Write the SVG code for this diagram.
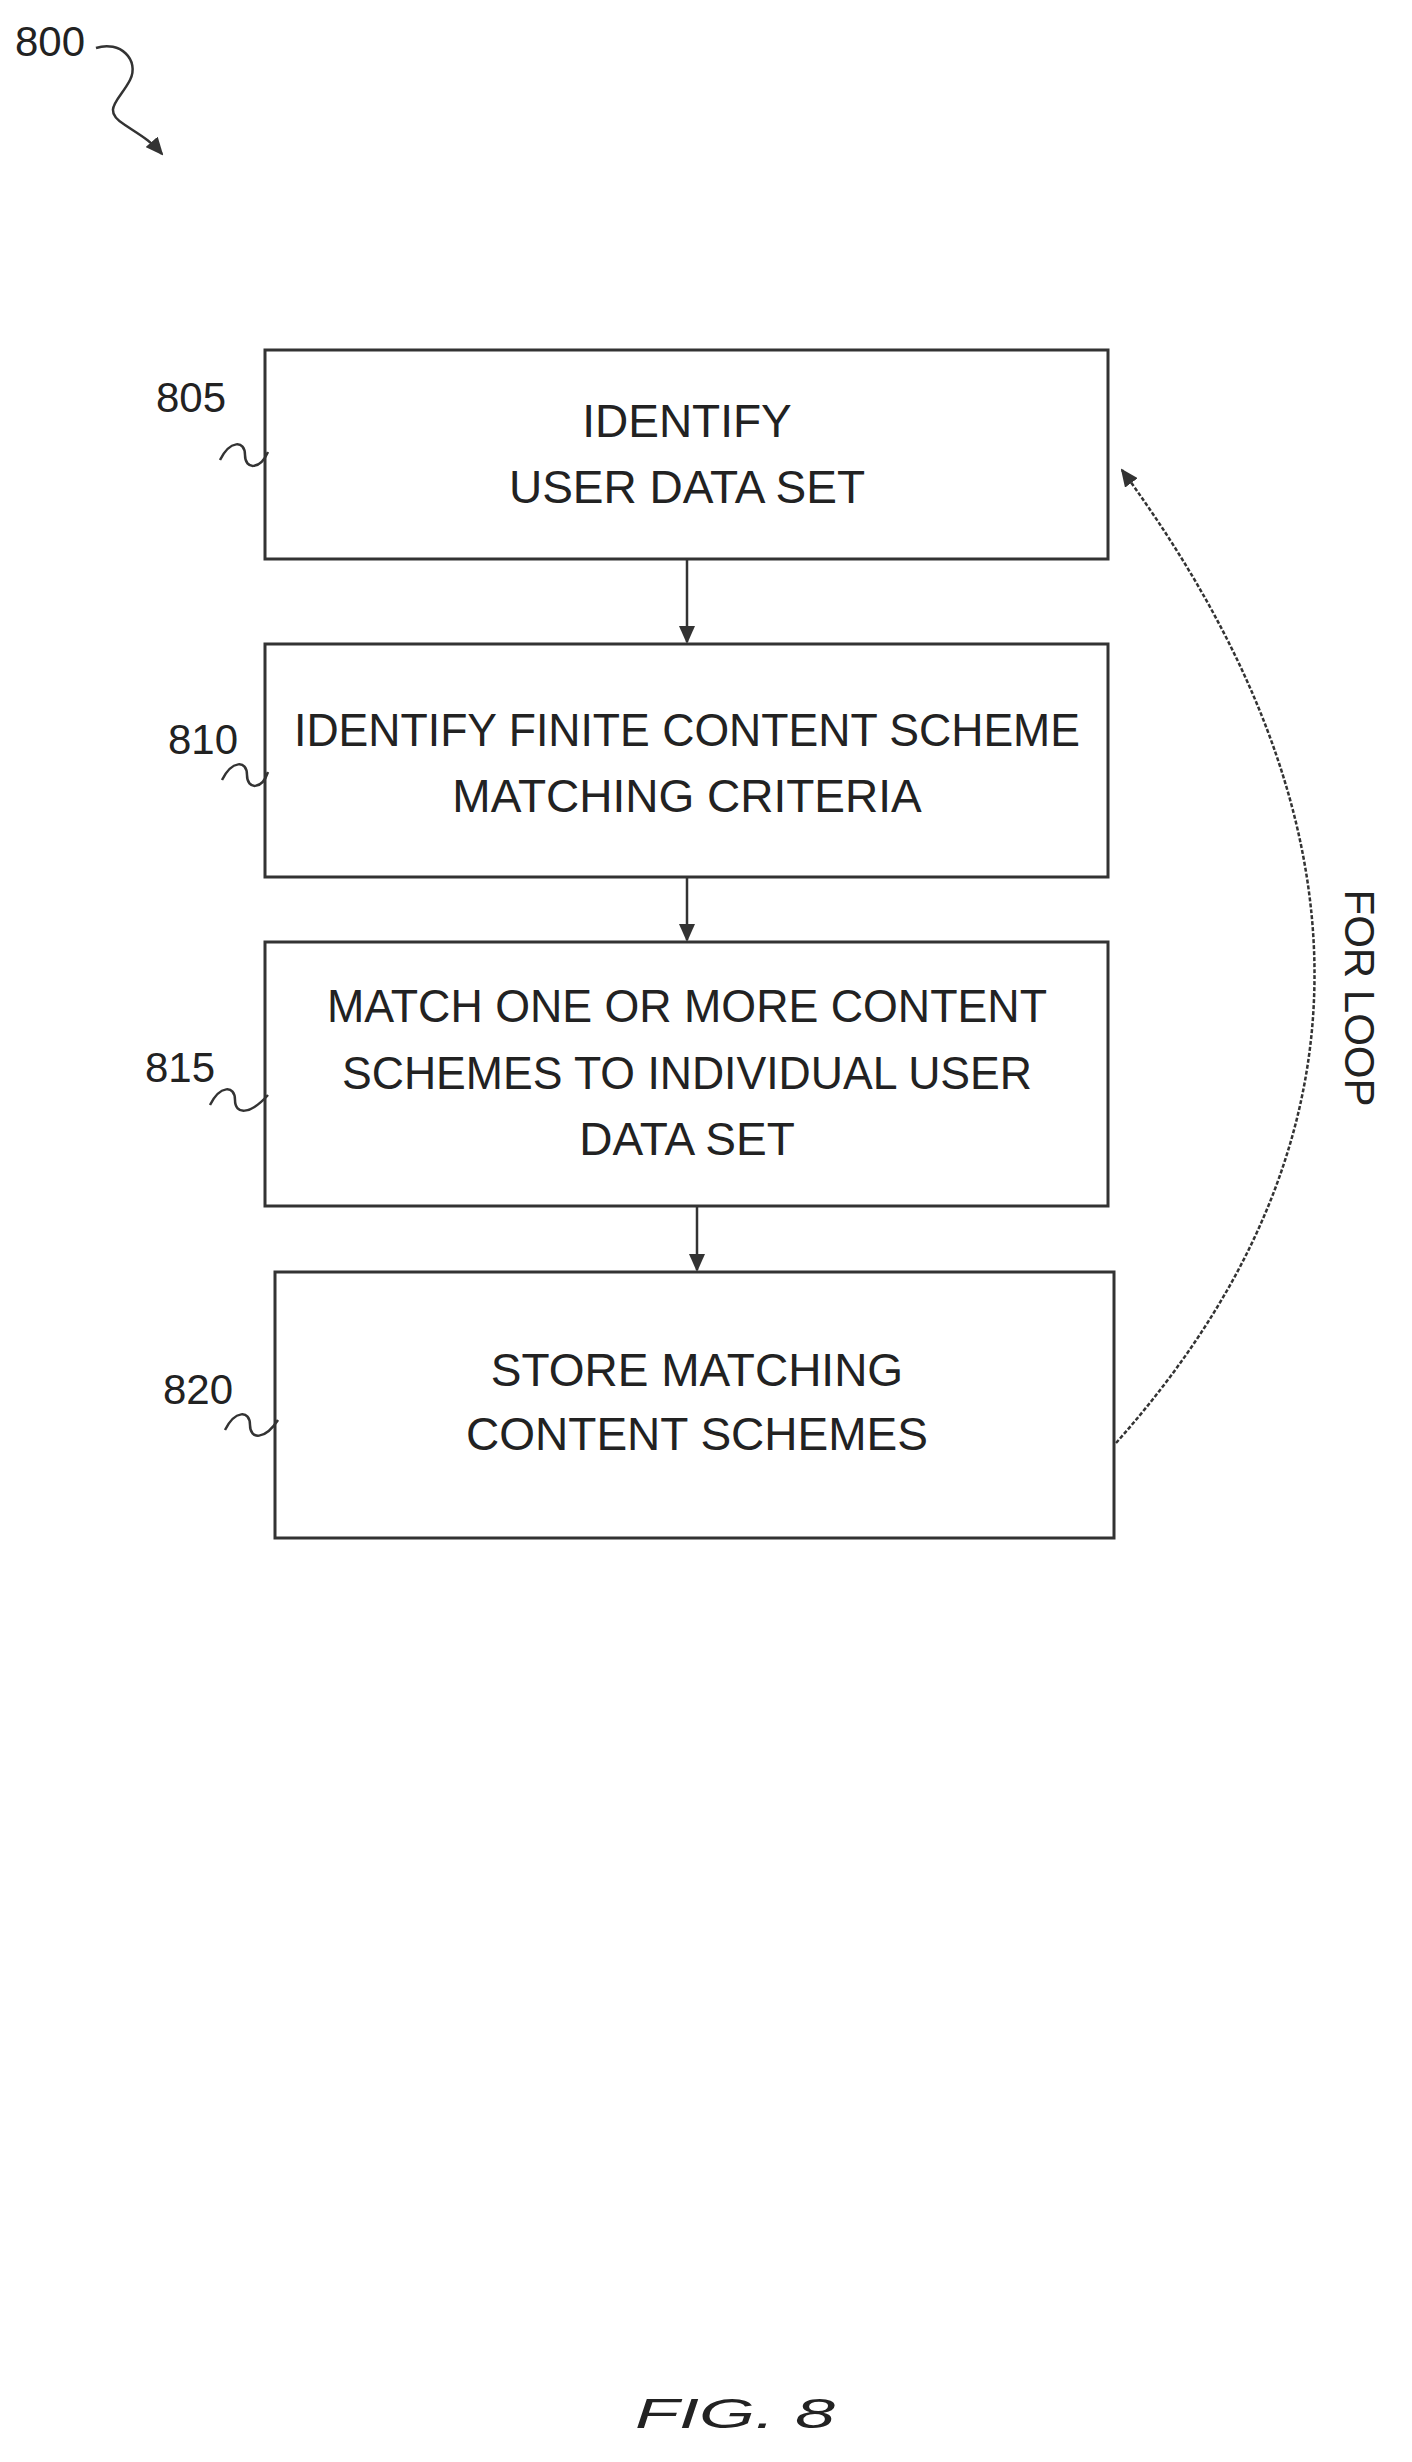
<svg xmlns="http://www.w3.org/2000/svg" width="1412" height="2462" viewBox="0 0 1412 2462">
<style>
.b{fill:none;stroke:#333;stroke-width:3}
.t{font-family:"Liberation Sans",Arial,sans-serif;font-size:46px;fill:#222;text-anchor:middle}
.l{font-family:"Liberation Sans",Arial,sans-serif;font-size:42px;fill:#222}
.c{fill:none;stroke:#333;stroke-width:2.5}
</style>
<defs><marker id="a" markerWidth="18" markerHeight="16" refX="16" refY="8" orient="auto" markerUnits="userSpaceOnUse"><path d="M0,0 L18,8 L0,16 z" fill="#333"/></marker></defs>
<rect width="1412" height="2462" fill="#fff"/>
<g id="n800"><text class="l" x="15" y="56">800</text><path class="c" d="M96,48 C120,40 140,60 130,80 C120,100 100,110 125,125 C140,135 150,140 162,154" marker-end="url(#a)"/></g>
<g id="n805"><rect class="b" x="265" y="350" width="843" height="209"/><text class="t" x="687" y="437">IDENTIFY</text><text class="t" x="687" y="503">USER DATA SET</text><text class="l" x="156" y="412">805</text><path class="c" d="M220,460 C230,440 245,440 245,455 C245,470 260,470 268,452"/></g>
<g id="n810"><rect class="b" x="265" y="644" width="843" height="233"/><text class="t" x="687" y="746" textLength="786" lengthAdjust="spacingAndGlyphs">IDENTIFY FINITE CONTENT SCHEME</text><text class="t" x="687" y="812">MATCHING CRITERIA</text><text class="l" x="168" y="754">810</text><path class="c" d="M222,780 C232,760 247,760 247,775 C247,790 262,790 268,772"/></g>
<g id="n815"><rect class="b" x="265" y="942" width="843" height="264"/><text class="t" x="687" y="1022" textLength="720" lengthAdjust="spacingAndGlyphs">MATCH ONE OR MORE CONTENT</text><text class="t" x="687" y="1089" textLength="690" lengthAdjust="spacingAndGlyphs">SCHEMES TO INDIVIDUAL USER</text><text class="t" x="687" y="1155">DATA SET</text><text class="l" x="145" y="1082">815</text><path class="c" d="M210,1105 C220,1085 235,1085 235,1100 C235,1115 250,1115 268,1095"/></g>
<g id="n820"><rect class="b" x="275" y="1272" width="839" height="266"/><text class="t" x="697" y="1386">STORE MATCHING</text><text class="t" x="697" y="1450">CONTENT SCHEMES</text><text class="l" x="163" y="1404">820</text><path class="c" d="M225,1430 C235,1410 250,1410 250,1425 C250,1440 265,1440 278,1420"/></g>
<g id="connectors">
<line class="c" x1="687" y1="559" x2="687" y2="642" marker-end="url(#a)"/>
<line class="c" x1="687" y1="877" x2="687" y2="940" marker-end="url(#a)"/>
<line class="c" x1="697" y1="1206" x2="697" y2="1270" marker-end="url(#a)"/>
<path class="c" stroke-dasharray="4,2" d="M1116,1443 Q1510,1000 1122,470" marker-end="url(#a)"/>
</g>
<text class="l" transform="translate(1345,998) rotate(90)" text-anchor="middle" font-size="46">FOR LOOP</text>
<text class="l" x="735" y="2428" text-anchor="middle" font-size="110" font-style="italic" textLength="200" lengthAdjust="spacingAndGlyphs">FIG. 8</text>
</svg>
